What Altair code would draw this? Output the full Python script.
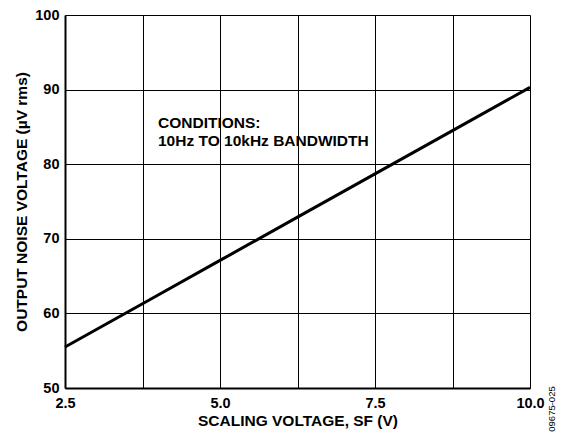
import altair as alt
import pandas as pd

sf_v = [2.5, 3.75, 5.0, 6.25, 7.5, 8.75, 10.0]
noise_uv = [55.5, 61.3, 67.1, 72.9, 78.7, 84.5, 90.3]

note_x = [4.0, 4.0]
note_y = [85.5, 83.1]
note_text = ["CONDITIONS:", "10Hz TO 10kHz BANDWIDTH"]

x_ticks = [2.5, 3.75, 5.0, 6.25, 7.5, 8.75, 10.0]
y_ticks = [50, 60, 70, 80, 90, 100]

df = pd.DataFrame({"x": sf_v, "y": noise_uv})
notes = pd.DataFrame({"x": note_x, "y": note_y, "t": note_text})

FONT = "Liberation Sans"

xscale = alt.Scale(domain=[2.5, 10.0], nice=False, zero=False)
yscale = alt.Scale(domain=[50, 100], nice=False, zero=False)

line = alt.Chart(df).mark_line(color="black", strokeWidth=3).encode(
    x=alt.X("x:Q", scale=xscale,
            axis=alt.Axis(values=x_ticks, title="SCALING VOLTAGE, SF (V)",
                          labelExpr="(datum.value % 2.5 == 0) ? format(datum.value, '.1f') : ''",
                          grid=True, gridColor="black", gridWidth=1, gridOpacity=1,
                          domainColor="black", domainWidth=2, ticks=False,
                          labelPadding=8, labelFontSize=14.5, labelFont=FONT, labelFontWeight="bold",
                          labelColor="black", titleFont=FONT, titleFontSize=15.5, titleFontWeight="bold",
                          titleColor="black", titlePadding=4, labelFlush=False)),
    y=alt.Y("y:Q", scale=yscale,
            axis=alt.Axis(values=y_ticks, title="OUTPUT NOISE VOLTAGE (µV rms)", format="d",
                          grid=True, gridColor="black", gridWidth=1, gridOpacity=1,
                          domainColor="black", domainWidth=2, ticks=False,
                          labelPadding=6, labelFontSize=14.5, labelFont=FONT, labelFontWeight="bold",
                          labelColor="black", titleFont=FONT, titleFontSize=15.5, titleFontWeight="bold",
                          titleColor="black", titlePadding=5, labelFlush=False)),
)

text = alt.Chart(notes).mark_text(align="left", baseline="middle", font=FONT, fontSize=15.5,
                                  fontWeight="bold", color="black").encode(
    x="x:Q", y="y:Q", text="t:N")

tag = alt.Chart(pd.DataFrame({"t": ["09675-025"]})).mark_text(
    angle=270, font=FONT, fontSize=9.5, color="black", align="center", baseline="middle").encode(
    x=alt.value(487), y=alt.value(394), text="t:N")

chart = alt.layer(line, text, tag).properties(
    width=465, height=373,
    autosize=alt.AutoSizeParams(type="none"),
    padding={"left": 57, "top": 7, "right": 29, "bottom": 47},
).configure_view(stroke="black", strokeWidth=2).configure(background="white")

chart.save("out.html", embed_options={"renderer": "svg", "actions": False})
